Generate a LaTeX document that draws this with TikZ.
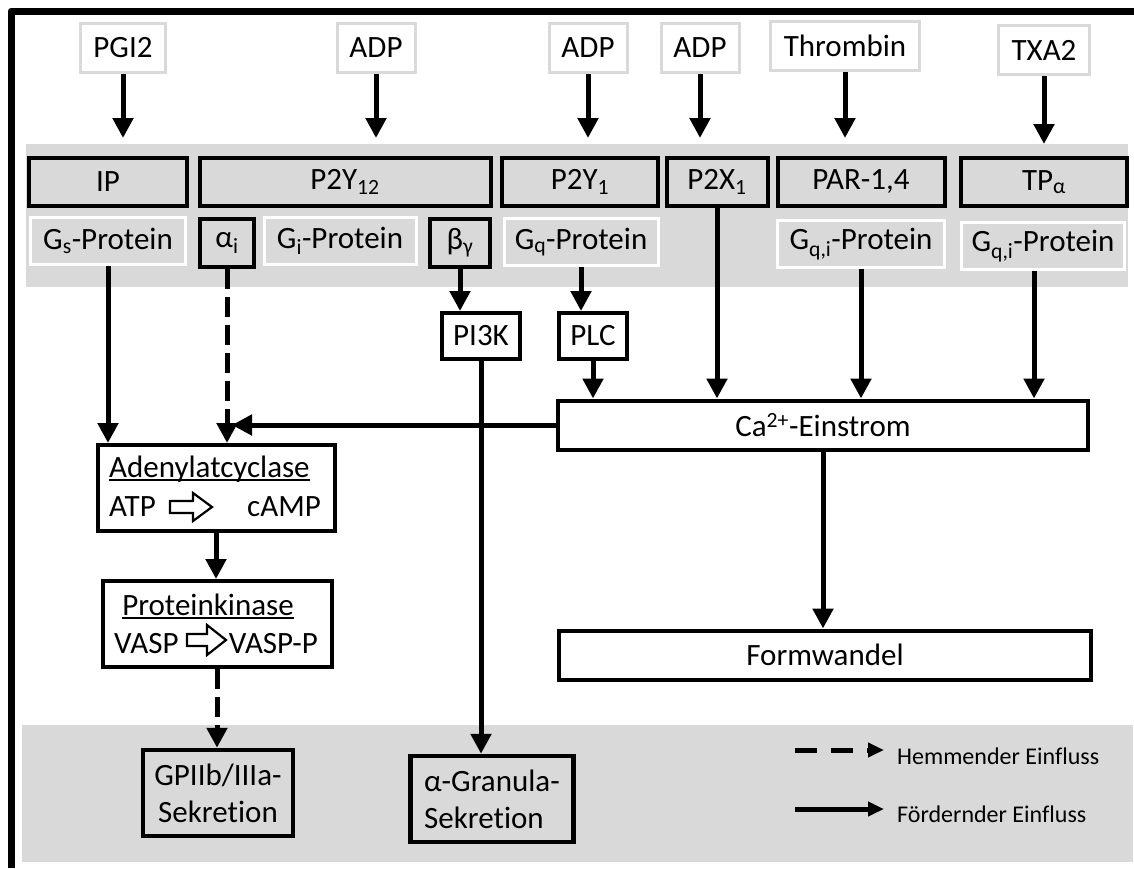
\documentclass[tikz,border=0pt]{standalone}
\usepackage{fontspec}
\setmainfont{Carlito}[Ligatures=NoCommon]
\usetikzlibrary{arrows.meta}
\definecolor{bandgray}{HTML}{D9D9D9}
\tikzset{
  txt/.style={font=\fontsize{31}{37}\selectfont, inner sep=0pt},
  inbox/.style={txt, draw=bandgray, line width=3pt, fill=white, minimum height=49pt},
  recbox/.style={txt, draw=black, line width=4pt, fill=bandgray, minimum height=48pt},
  gbox/.style={txt, draw=white, line width=3pt, fill=bandgray, minimum height=47pt},
  wbox/.style={txt, draw=black, line width=4pt, fill=white},
  secbox/.style={txt, draw=black, line width=4.5pt, fill=bandgray, minimum height=86pt},
  legtxt/.style={font=\fontsize{24}{29}\selectfont, inner sep=0pt},
  arr/.style={-{Triangle[length=20pt, width=20pt]}, line width=5pt},
  dasharr/.style={arr, dash pattern=on 20pt off 8pt},
  legarr/.style={-{Triangle[length=16pt, width=14pt]}, line width=5pt},
  legdash/.style={legarr, dash pattern=on 22pt off 14pt},
}
\begin{document}
\begin{tikzpicture}[x=1pt, y=-1pt]
      \useasboundingbox (0,0) rectangle (1134,868);
      \fill[bandgray] (26,144) rectangle (1128,287);
      \fill[bandgray] (22,725) rectangle (1133,862);
      \draw[line width=7pt, line join=round] (11,868) -- (11,11) -- (1134,11);
      \path
        (123,48) node[inbox, minimum width=85pt] (pgi){PGI2}
        (376,48) node[inbox, minimum width=78pt] (adpa){ADP}
        (588,48) node[inbox, minimum width=78pt] (adpb){ADP}
        (700,48) node[inbox, minimum width=78pt] (adpc){ADP}
        (845,46) node[inbox, minimum width=149pt] (thr){Thrombin}
        (1044,50) node[inbox, minimum width=91pt] (txa){TXA2}
        (108,182) node[recbox, minimum width=158pt] (ip){IP}
        (345,182) node[recbox, minimum width=291pt] (ptwelve){P2Y\textsubscript{12}}
        (580,182) node[recbox, minimum width=156pt] (pone){P2Y\textsubscript{1}}
        (717,182) node[recbox, minimum width=101pt] (pxone){P2X\textsubscript{1}}
        (861,182) node[recbox, minimum width=167pt] (par){PAR-1,4}
        (1044,182) node[recbox, minimum width=166pt] (tp){TP\textsubscript{α}}
        (108,241) node[gbox, minimum width=155pt] (gs){G\textsubscript{s}-Protein}
        (227,243) node[recbox, minimum width=54pt] (ai){α\textsubscript{i}}
        (340,241) node[gbox, minimum width=152pt] (gi){G\textsubscript{i}-Protein}
        (460,243) node[recbox, minimum width=60pt] (bg){β\textsubscript{γ}}
        (581,242) node[gbox, minimum width=154pt] (gq){G\textsubscript{q}-Protein}
        (861,244) node[gbox, minimum width=167pt] (gqa){G\textsubscript{q,i}-Protein}
        (1043,246) node[gbox, minimum width=163pt] (gqb){G\textsubscript{q,i}-Protein}
        (481,336) node[wbox, minimum width=78pt, minimum height=46pt] (pik){PI3K}
        (593,336) node[wbox, minimum width=68pt, minimum height=46pt] (plc){PLC}
        (823,425) node[wbox, minimum width=530pt, minimum height=49pt] (ca){Ca\textsuperscript{2+}-Einstrom}
        (216,488) node[wbox, minimum width=237pt, minimum height=86pt] (ac){}
        (217,624) node[wbox, minimum width=229pt, minimum height=86pt] (pk){}
        (825,655) node[wbox, minimum width=532pt, minimum height=49pt] (form){Formwandel}
        (218,793) node[secbox, minimum width=150pt, align=center] (gp){GPIIb/IIIa-\\Sekretion}
        (492,799) node[secbox, minimum width=163pt, align=left] (gran){α-Granula-\\Sekretion}
        (109,477) node[txt, anchor=base west] (actitle){Adenylatcyclase}
        (109,516) node[txt, anchor=base west] (atp){ATP}
        (321,516) node[txt, anchor=base east] (camp){cAMP}
        (208,615) node[txt, anchor=base] (pktitle){Proteinkinase}
        (114,653) node[txt, anchor=base west] (vasp){VASP}
        (318,653) node[txt, anchor=base east] (vaspp){VASP-P};
      \draw[line width=1.8pt] ([yshift=-3pt]actitle.base west) -- ([yshift=-3pt]actitle.base east);
      \draw[line width=1.8pt] ([yshift=-3pt]pktitle.base west) -- ([yshift=-3pt]pktitle.base east);
      \draw[line width=2.2pt] (170,501) -- ++(23,0) -- ++(0,-8) -- ++(19,14) -- ++(-19,14) -- ++(0,-8) -- ++(-23,0) -- cycle;
      \draw[line width=2.2pt] (187,634) -- ++(20,0) -- ++(0,-9) -- ++(19,15) -- ++(-19,15) -- ++(0,-9) -- ++(-20,0) -- cycle;
      \begin{scope}[arr, shorten >=18pt]
        \draw (pgi) to (pgi |- ip.north);
        \draw (adpa) to (adpa |- ptwelve.north);
        \draw (adpb) to (adpb |- pone.north);
        \draw (adpc) to (adpc |- pxone.north);
        \draw (thr) to (thr |- par.north);
        \draw[shorten >=12pt] (txa) to (txa |- tp.north);
      \end{scope}
      \begin{scope}[arr]
        \draw (gs) to (gs |- ac.north);
        \draw (bg) to (bg |- pik.north);
        \draw (gq) to (gq |- plc.north);
        \draw (plc) to (plc |- ca.north);
        \draw (pxone) to (pxone |- ca.north);
        \draw (gqa) to (gqa |- ca.north);
        \draw ([xshift=-9pt]gqb.south) to ([xshift=-9pt]gqb.south |- ca.north);
        \draw (ca) to ([xshift=5pt]ai.center |- ca);
        \draw (pik) to (pik |- gran.north);
        \draw (ac) to (ac |- pk.north);
        \draw (ca) to (ca |- form.north);
      \end{scope}
      \begin{scope}[dasharr]
        \draw (ai) to (ai |- ac.north);
        \draw (pk) to (pk |- gp.north);
      \end{scope}
      \coordinate (hemfrom) at (795,750);
      \coordinate (foerfrom) at (795,809);
      \node[legtxt, anchor=west] (hem) at (897,756) {Hemmender Einfluss};
      \node[legtxt, anchor=west] (foer) at (897,814) {Fördernder Einfluss};
      \draw[legdash, shorten >=13pt] (hemfrom) to (hemfrom -| hem.west);
      \draw[legarr, shorten >=13pt] (foerfrom) to (foerfrom -| foer.west);
    \end{tikzpicture}
\end{document}
